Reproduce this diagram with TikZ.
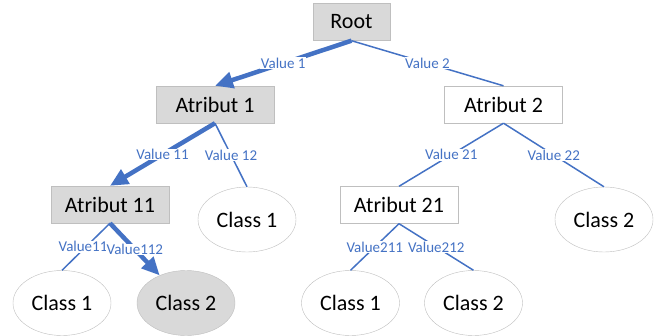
\documentclass[tikz,border=0pt]{standalone}
\usepackage{fontspec}
\setmainfont{Carlito}
\usetikzlibrary{shapes.geometric,arrows.meta}
\definecolor{edgeblue}{HTML}{4472C4}
\definecolor{boxgray}{HTML}{D9D9D9}
\definecolor{linegray}{HTML}{BFBFBF}
\tikzset{
  attr/.style={draw=linegray, fill=white, minimum width=118, minimum height=37, inner sep=0pt, font=\fontsize{22}{22}\selectfont},
  leaf/.style={ellipse, draw=linegray, fill=white, minimum width=98, minimum height=65, inner sep=0pt, font=\fontsize{22}{22}\selectfont},
  chosen/.style={fill=boxgray},
  val/.style={fill=white, inner sep=0.5pt, text=edgeblue, font=\fontsize{15}{15}\selectfont},
  branch/.style={draw=edgeblue, line width=1.5pt},
  path/.style={draw=edgeblue, line width=4.5pt, -{Triangle[length=18pt,width=16pt]}}
}
\begin{document}
\begin{tikzpicture}[x=1pt,y=-1pt]
        \useasboundingbox (0,0) rectangle (661,335);
        % nodes
        \node[attr, chosen, minimum width=77] (root) at (351.5,22) {Root};
        \node[attr, chosen] (a1) at (215,104.5) {Atribut 1};
        \node[attr] (a2) at (503.5,104.5) {Atribut 2};
        \node[attr, chosen] (a11) at (110,204.5) {Atribut 11};
        \node[leaf] (c12) at (247,219.5) {Class 1};
        \node[attr] (a21) at (399,205) {Atribut 21};
        \node[leaf] (c22) at (604,219.5) {Class 2};
        \node[leaf] (c111) at (62,303) {Class 1};
        \node[leaf, chosen] (c112) at (186,303) {Class 2};
        \node[leaf] (c211) at (350.5,303) {Class 1};
        \node[leaf] (c212) at (473.5,303) {Class 2};
        % edges
        \draw[path] (root.south) -- node[val]{Value 1} (a1.north);
        \draw[branch] (root.south) -- node[val]{Value 2} (a2.north);
        \draw[path] (a1.south) -- node[val]{Value 11} (a11.north);
        \draw[branch] (a1.south) -- node[val]{Value 12} (c12.north);
        \draw[branch] (a2.south) -- node[val]{Value 21} (a21.north);
        \draw[branch] (a2.south) -- node[val]{Value 22} (c22.north);
        \draw[branch] (a11.south) -- node[val, xshift=-3pt]{Value11} (c111.north);
        \draw[path] (a11.south) -- node[val]{Value112} (c112);
        \draw[branch] (a21.south) -- node[val]{Value211} (c211.north);
        \draw[branch] (a21.south) -- node[val]{Value212} (c212.north);
      \end{tikzpicture}
\end{document}
